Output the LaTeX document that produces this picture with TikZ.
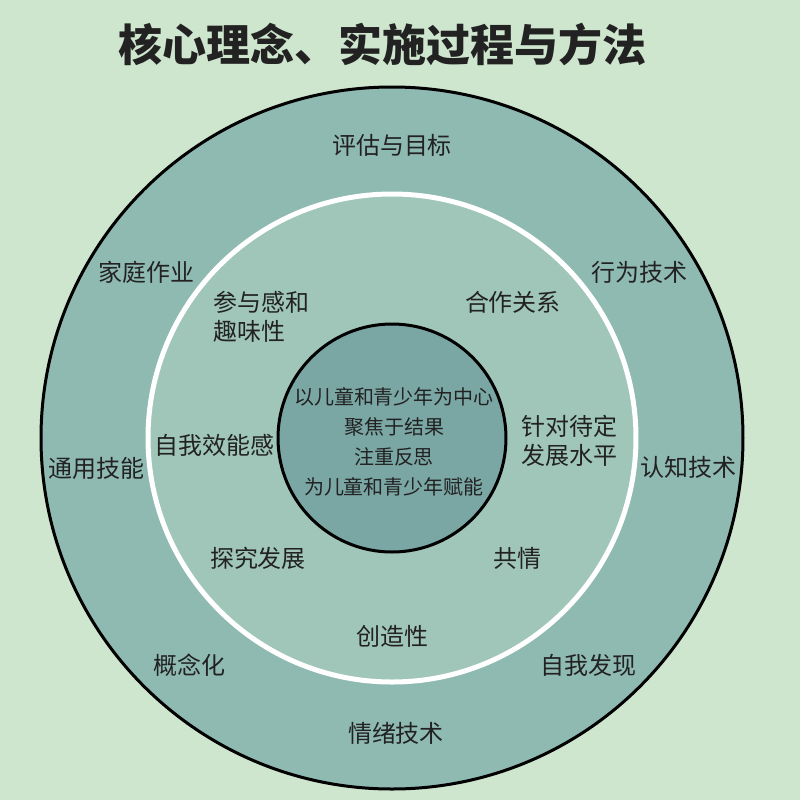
\documentclass[tikz,border=0pt]{standalone}
\usepackage{fontspec}
\setmainfont{Noto Sans CJK SC}
\definecolor{bgGreen}{HTML}{CEE5CE}
\definecolor{ringOuter}{HTML}{8FBAB2}
\definecolor{ringMid}{HTML}{A0C6BA}
\definecolor{coreFill}{HTML}{7AA6A4}
\definecolor{txt}{HTML}{222222}

\begin{document}
\begin{tikzpicture}[x=0.5pt,y=-0.5pt,
    lbl/.style={text=txt,font=\fontsize{12pt}{14.5pt}\selectfont,inner sep=0pt},
    lblleft/.style={lbl,align=left,anchor=west},
    core/.style={text=txt,font=\fontsize{10pt}{15pt}\selectfont,align=center,inner sep=0pt}]
    \fill[bgGreen] (0,0) rectangle (800,800);
    \useasboundingbox (0,0) rectangle (800,800);
    \coordinate (c) at (392,438);
    \filldraw[fill=ringOuter,draw=black,line width=1.5pt] (c) circle[radius=175.5pt];
    \filldraw[fill=ringMid,draw=white,line width=2.5pt] (c) circle[radius=122pt];
    \filldraw[fill=coreFill,draw=black,line width=1.5pt] (c) circle[radius=57pt];
    % title
    \node[text=txt,font=\fontsize{22pt}{26pt}\selectfont\bfseries] (title) at (383,45) {核心理念、实施过程与方法};
    % outer ring
    \node[lbl] (eval) at (392,145) {评估与目标};
    \node[lbl] (home) at (146,272) {家庭作业};
    \node[lbl] (behav) at (639,272) {行为技术};
    \node[lbl] (general) at (96,468) {通用技能};
    \node[lbl] (cogn) at (688,467) {认知技术};
    \node[lbl] (concept) at (190,665) {概念化};
    \node[lbl] (selfdisc) at (588,665) {自我发现};
    \node[lbl] (emotion) at (396,733) {情绪技术};
    % middle ring
    \node[lblleft] (engage) at (213,317) {参与感和\\趣味性};
    \node[lbl] (collab) at (513,302) {合作关系};
    \node[lbl] (efficacy) at (215,445) {自我效能感};
    \node[lblleft] (level) at (521,441) {针对待定\\发展水平};
    \node[lbl] (explore) at (258,558) {探究发展};
    \node[lbl] (empathy) at (517,558) {共情};
    \node[lbl] (create) at (393,636) {创造性};
    % core
    \node[core] (centre) at (394,442) {以儿童和青少年为中心\\聚焦于结果\\注重反思\\为儿童和青少年赋能};
\end{tikzpicture}
\end{document}
